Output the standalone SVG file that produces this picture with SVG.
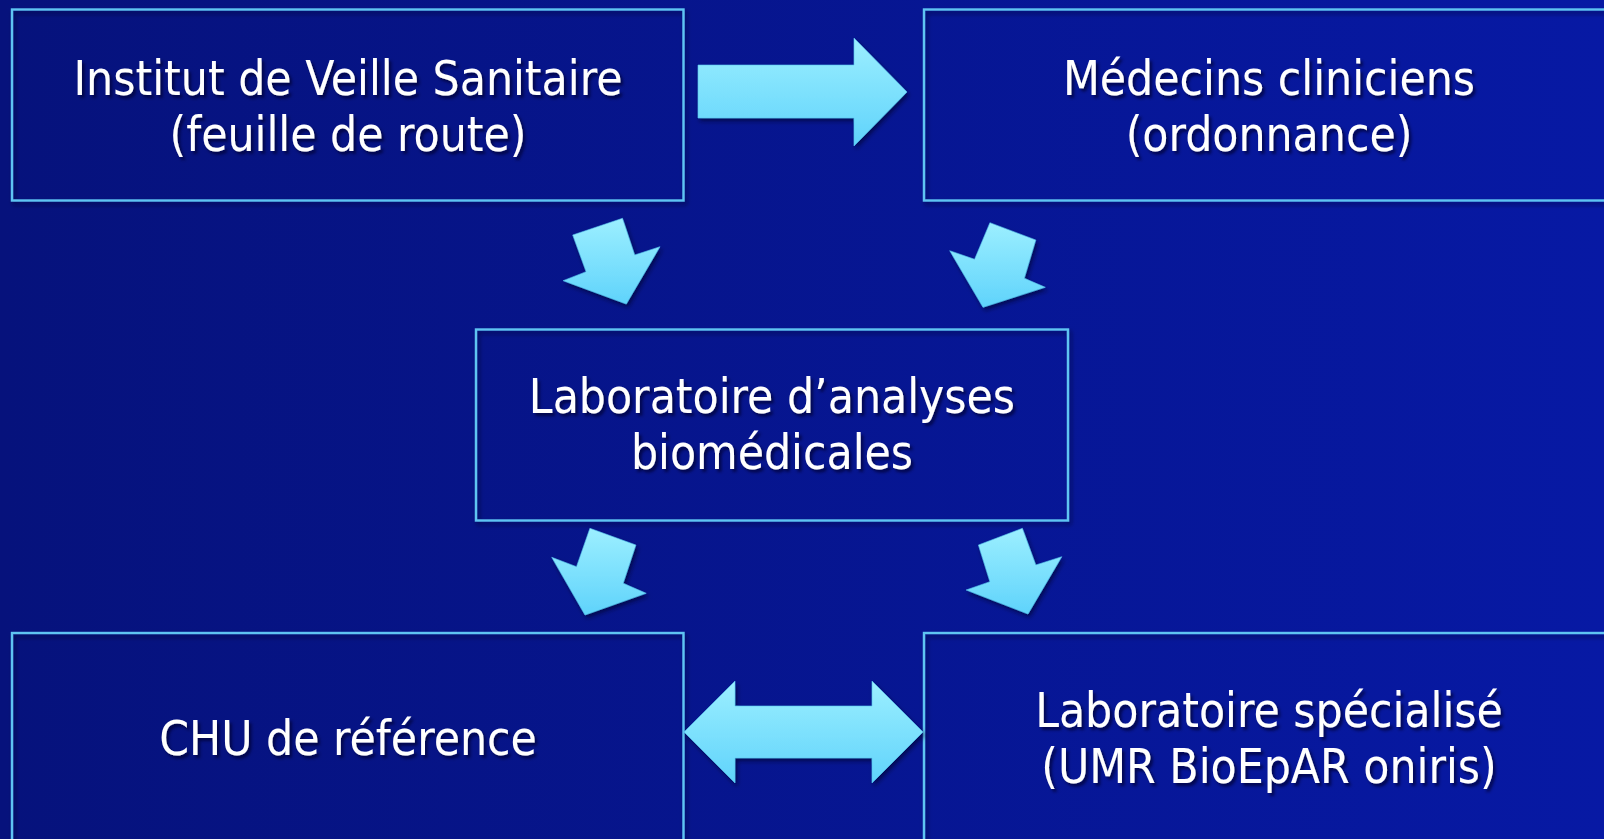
<svg xmlns="http://www.w3.org/2000/svg" width="1604" height="839" viewBox="0 0 1604 839">
  <defs>
    <linearGradient id="bg" x1="0" y1="0" x2="1" y2="0">
      <stop offset="0" stop-color="#06127c"/>
      <stop offset="1" stop-color="#0719a4"/>
    </linearGradient>
    <linearGradient id="arrowFill" x1="0" y1="0" x2="0" y2="1">
      <stop offset="0" stop-color="#9cefff"/>
      <stop offset="1" stop-color="#5fd3fb"/>
    </linearGradient>
    <filter id="shadow" x="-10%" y="-10%" width="130%" height="130%">
      <feDropShadow dx="2" dy="3" stdDeviation="2" flood-color="#000022" flood-opacity="0.55"/>
    </filter>
    <filter id="tshadow" x="-5%" y="-20%" width="115%" height="150%">
      <feDropShadow dx="2.5" dy="3" stdDeviation="1.5" flood-color="#000030" flood-opacity="0.75"/>
    </filter>
  </defs>
  <style>
    .box { fill: none; stroke: #5ec4f2; stroke-width: 2.4; filter: url(#shadow); }
    .arrow { fill: url(#arrowFill); stroke: #56c6ef; stroke-width: 1; stroke-opacity: 0.6; filter: url(#shadow); }
    .label { font-family: "DejaVu Sans Condensed", "DejaVu Sans", sans-serif; font-stretch: condensed; font-size: 47.5px; fill: #ffffff; text-anchor: middle; filter: url(#tshadow); }
  </style>
  <rect x="0" y="0" width="1604" height="839" fill="url(#bg)"/>

  <g id="node-invs">
    <rect class="box" x="12" y="9.5" width="671.5" height="191"/>
    <text class="label" x="348" y="95">Institut de Veille Sanitaire</text>
    <text class="label" x="348" y="151">(feuille de route)</text>
  </g>

  <g id="node-medecins">
    <rect class="box" x="924" y="9.5" width="700" height="191"/>
    <text class="label" x="1269" y="95">Médecins cliniciens</text>
    <text class="label" x="1269" y="151">(ordonnance)</text>
  </g>

  <g id="node-labo">
    <rect class="box" x="476" y="329.5" width="592" height="191"/>
    <text class="label" x="772" y="413">Laboratoire d’analyses</text>
    <text class="label" x="772" y="469">biomédicales</text>
  </g>

  <g id="node-chu">
    <rect class="box" x="12" y="633" width="671.5" height="230"/>
    <text class="label" x="348" y="755">CHU de référence</text>
  </g>

  <g id="node-labspec">
    <rect class="box" x="924" y="633" width="700" height="230"/>
    <text class="label" x="1269" y="727">Laboratoire spécialisé</text>
    <text class="label" x="1269" y="783">(UMR BioEpAR oniris)</text>
  </g>

  <g id="connectors">
    <polygon class="arrow" points="698,65 854,65 854,38 907,92 854,146 854,118 698,118"/>
    <polygon class="arrow" points="572.7,235 622.5,218.3 634.7,255 660,246.7 626.3,304 563.1,280.7 586.1,271.7"/>
    <polygon class="arrow" points="989.9,222.7 1035.8,240 1024.3,278.3 1045.3,287.3 983,307.3 949.7,250.7 974.6,259.3"/>
    <polygon class="arrow" points="589.9,528.3 635.9,545 623.2,583.3 646.2,593.3 585,615 551.7,557.3 576.5,566.7"/>
    <polygon class="arrow" points="978.4,545 1022.4,528.3 1035.8,565 1061.8,556.7 1028,614 966.1,590 989.9,581.7"/>
    <polygon class="arrow" points="684,732 735,681 735,706 872,706 872,681 923,732 872,783 872,758 735,758 735,783"/>
  </g>
</svg>
